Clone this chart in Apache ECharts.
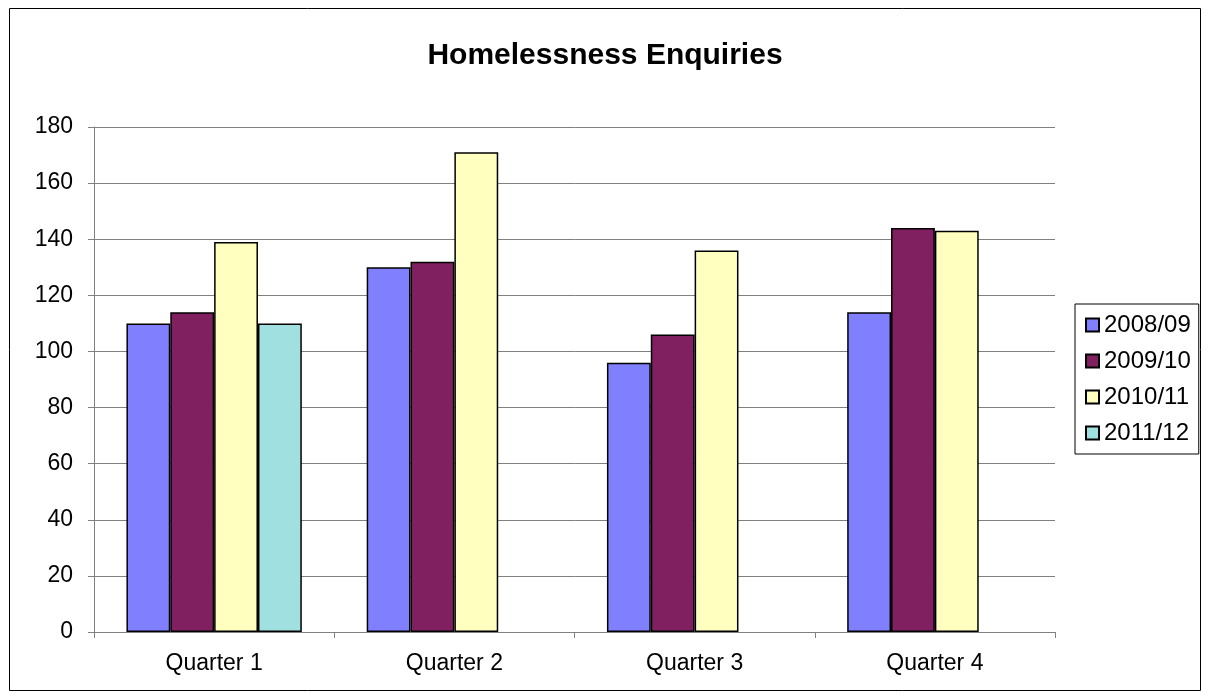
<!DOCTYPE html>
<html>
<head>
<meta charset="utf-8">
<script src="https://cdn.jsdelivr.net/npm/echarts@6/dist/echarts.min.js"></script>
<style>html,body{margin:0;padding:0;background:#fff}#c{width:1210px;height:698px}</style>
</head>
<body>
<div id="c"></div>
<script>
var categories = ['Quarter 1', 'Quarter 2', 'Quarter 3', 'Quarter 4'];
var seriesNames = ['2008/09', '2009/10', '2010/11', '2011/12'];
var s0809 = [110, 130, 96, 114];
var s0910 = [114, 132, 106, 144];
var s1011 = [139, 171, 136, 143];
var s1112 = [110, null, null, null];
var colors = ['#8080FF', '#802060', '#FFFFC0', '#A0E0E0'];
var allData = [s0809, s0910, s1011, s1112];

var chart = echarts.init(document.getElementById('c'), null, {renderer: 'canvas'});
var font = 'Liberation Sans, Arial, sans-serif';
chart.setOption({
  animation: false,
  backgroundColor: '#fff',
  graphic: [{type: 'rect', shape: {x: 9.5, y: 8.5, width: 1191, height: 682}, style: {fill: 'none', stroke: '#000', lineWidth: 1}, z: -1}],
  title: {text: 'Homelessness Enquiries', left: 'center', top: 36,
    textStyle: {fontFamily: font, fontSize: 30, fontWeight: 'bold', color: '#000'}},
  legend: {orient: 'vertical', left: 1075, top: 304,
    padding: [9, 8, 9, 10], itemGap: 12, itemWidth: 13, itemHeight: 13, itemTextGap: 10,
    icon: 'rect',
    borderColor: '#000', borderWidth: 1, data: seriesNames,
    textStyle: {fontFamily: font, fontSize: 24, lineHeight: 24, color: '#000'}},
  grid: {left: 94, right: 155, top: 127, bottom: 66},
  xAxis: {type: 'category', data: categories,
    axisLine: {lineStyle: {color: '#808080', width: 1}},
    axisTick: {show: true, length: 6, lineStyle: {color: '#808080'}},
    axisLabel: {fontFamily: font, fontSize: 23, color: '#000', margin: 20}},
  yAxis: {type: 'value', min: 0, max: 180, interval: 20,
    axisLine: {show: true, lineStyle: {color: '#808080', width: 1}},
    axisTick: {show: true, length: 6, lineStyle: {color: '#808080'}},
    splitLine: {lineStyle: {color: '#808080', width: 1}},
    axisLabel: {fontFamily: font, fontSize: 23, color: '#000', margin: 21}},
  series: seriesNames.map(function (n, i) {
    return {name: n, type: 'bar', data: allData[i], barGap: '0%', barCategoryGap: '27%',
      itemStyle: {color: colors[i], borderColor: '#000', borderWidth: 1.5}};
  })
});
</script>
</body>
</html>
